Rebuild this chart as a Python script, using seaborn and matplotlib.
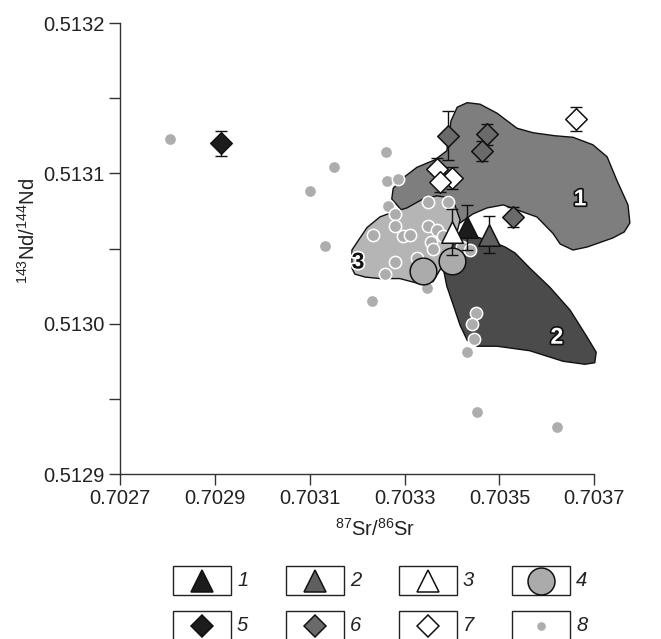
import matplotlib
matplotlib.use('Agg')
import matplotlib.pyplot as plt
import matplotlib.patheffects as pe
from matplotlib.patches import Polygon, Rectangle
import pandas as pd
import seaborn as sns

sns.set_theme(style='ticks')
plt.rcParams['font.family'] = ['Liberation Sans', 'DejaVu Sans']
plt.rcParams['mathtext.fontset'] = 'custom'
plt.rcParams['mathtext.rm'] = 'Liberation Sans'
plt.rcParams['mathtext.default'] = 'regular'

# ---- data ----
# group 1: black triangles
g1_sr = [0.703431]
g1_nd = [0.513064]
g1_err = [0.0000151]
# group 2: grey triangles
g2_sr = [0.703479]
g2_nd = [0.513059]
g2_err = [0.0000123]
# group 3: white triangles
g3_sr = [0.703399]
g3_nd = [0.513061]
g3_err = [0.0000150]
# group 4: big grey circles
g4_sr = [0.703339, 0.703401]
g4_nd = [0.513035, 0.513042]
# group 5: black diamond
g5_sr = [0.702913]
g5_nd = [0.513120]
g5_err = [0.0000083]
# group 6: grey diamonds
g6_sr = [0.703391, 0.703473, 0.703463, 0.703529]
g6_nd = [0.513125, 0.513126, 0.513115, 0.513071]
g6_err = [0.0000163, 0.0000071, 0.0000067, 0.0000067]
# group 7: white diamonds
g7_sr = [0.703661, 0.703368, 0.703399, 0.703375]
g7_nd = [0.513136, 0.513103, 0.513097, 0.513094]
g7_err = [0.0000078, 0.0000075, 0.0000075, 0.0000065]
# group 8: small grey dots
g8_sr = [0.702806, 0.703101, 0.703151, 0.703261, 0.703264, 0.703287, 0.703266,
         0.703280, 0.703350, 0.703392, 0.703132, 0.703234, 0.703280, 0.703297,
         0.703311, 0.703350, 0.703368, 0.703355, 0.703382, 0.703280, 0.703259,
         0.703326, 0.703347, 0.703232, 0.703451, 0.703442, 0.703447, 0.703431,
         0.703452, 0.703621, 0.703421, 0.703438, 0.703360]
g8_nd = [0.513123, 0.513088, 0.513104, 0.513114, 0.513095, 0.513096, 0.513078,
         0.513073, 0.513081, 0.513081, 0.513052, 0.513059, 0.513065, 0.513058,
         0.513059, 0.513065, 0.513062, 0.513054, 0.513058, 0.513041, 0.513033,
         0.513044, 0.513024, 0.513015, 0.513007, 0.513000, 0.512990, 0.512981,
         0.512941, 0.512931, 0.513051, 0.513049, 0.513050]

# fields 1-3 outlines
field1_sr = [0.703273, 0.703276, 0.703297, 0.703326, 0.703364, 0.703389, 0.703398,
             0.703411, 0.703432, 0.703459, 0.703495, 0.703537, 0.703571, 0.703617,
             0.703655, 0.703697, 0.703727, 0.703748, 0.703771, 0.703775, 0.703763,
             0.703739, 0.703685, 0.703655, 0.703628, 0.703613, 0.703579, 0.703543,
             0.703508, 0.703474, 0.703444, 0.703417, 0.703375, 0.703311]
field1_nd = [0.513083, 0.513090, 0.513097, 0.513104, 0.513109, 0.513115, 0.513135,
             0.513144, 0.513147, 0.513146, 0.513140, 0.513130, 0.513127, 0.513125,
             0.513124, 0.513119, 0.513111, 0.513095, 0.513079, 0.513067, 0.513061,
             0.513057, 0.513051, 0.513049, 0.513053, 0.513060, 0.513071, 0.513075,
             0.513079, 0.513077, 0.513073, 0.513067, 0.513063, 0.513069]
field2_sr = [0.703385, 0.703438, 0.703480, 0.703512, 0.703533, 0.703564, 0.703607,
             0.703649, 0.703685, 0.703704, 0.703701, 0.703680, 0.703634, 0.703564,
             0.703495, 0.703453, 0.703432, 0.703417, 0.703402, 0.703389, 0.703379]
field2_nd = [0.513059, 0.513059, 0.513055, 0.513051, 0.513047, 0.513037, 0.513024,
             0.513009, 0.512991, 0.512981, 0.512974, 0.512973, 0.512975, 0.512982,
             0.512985, 0.512985, 0.512989, 0.512999, 0.513013, 0.513025, 0.513041]
field3_sr = [0.703189, 0.703189, 0.703206, 0.703221, 0.703248, 0.703273, 0.703305,
             0.703339, 0.703368, 0.703389, 0.703406, 0.703417, 0.703406, 0.703392,
             0.703375, 0.703360, 0.703326, 0.703290, 0.703248, 0.703217, 0.703195]
field3_nd = [0.513037, 0.513049, 0.513057, 0.513064, 0.513071, 0.513074, 0.513077,
             0.513083, 0.513085, 0.513084, 0.513079, 0.513069, 0.513055, 0.513045,
             0.513036, 0.513028, 0.513027, 0.513030, 0.513030, 0.513031, 0.513033]
field_labels = ['1', '2', '3']
field_label_sr = [0.703670, 0.703621, 0.703202]
field_label_nd = [0.513083, 0.512991, 0.513041]

x_ticks = [0.7027, 0.7029, 0.7031, 0.7033, 0.7035, 0.7037]
y_ticks = [0.5129, 0.5130, 0.5131, 0.5132]
legend_labels = ['1', '2', '3', '4', '5', '6', '7', '8']

# ---- figure ----
fig = plt.figure(figsize=(6.61, 6.39), dpi=100)
ax = fig.add_axes([0.1815, 0.2582, 0.7176, 0.7058])

ink = '#222222'
field_cols = ['#7e7e7e', '#4b4b4b', '#b5b5b5']
for sr, nd, col in zip([field1_sr, field2_sr, field3_sr],
                       [field1_nd, field2_nd, field3_nd], field_cols):
    ax.add_patch(Polygon(list(zip(sr, nd)), closed=True, facecolor=col,
                         edgecolor='#111111', linewidth=1, zorder=1,
                         clip_on=False, joinstyle='round'))

for lab, sx, sy in zip(field_labels, field_label_sr, field_label_nd):
    if lab == '3':
        fc, ec = '#111111', 'white'
    else:
        fc, ec = 'white', '#111111'
    ax.text(sx, sy, lab, fontsize=16.5, fontweight='bold', color=fc,
            ha='center', va='center', zorder=2,
            path_effects=[pe.withStroke(linewidth=2.5, foreground=ec)])

# small dots
sns.scatterplot(x=g8_sr, y=g8_nd, ax=ax, marker='o', s=78, color='#adadad',
                edgecolor='white', linewidth=1.1, zorder=3, legend=False)
# big circles
sns.scatterplot(x=g4_sr, y=g4_nd, ax=ax, marker='o', s=370, color='#ababab',
                edgecolor='#111111', linewidth=1.1, zorder=4, legend=False)

# error bars
for sr, nd, err in [(g1_sr, g1_nd, g1_err), (g2_sr, g2_nd, g2_err),
                    (g3_sr, g3_nd, g3_err), (g5_sr, g5_nd, g5_err),
                    (g6_sr, g6_nd, g6_err), (g7_sr, g7_nd, g7_err)]:
    ax.errorbar(sr, nd, yerr=err, fmt='none', ecolor='#111111',
                elinewidth=1, capsize=4.2, capthick=1, zorder=5)

marker_groups = [
    (g1_sr, g1_nd, '^', 240, '#1c1c1c'),
    (g2_sr, g2_nd, '^', 240, '#5f5f5f'),
    (g3_sr, g3_nd, '^', 240, 'white'),
    (g5_sr, g5_nd, 'D', 120, '#1c1c1c'),
    (g6_sr, g6_nd, 'D', 120, '#6a6a6a'),
    (g7_sr, g7_nd, 'D', 120, 'white'),
]
for sr, nd, mk, size, col in marker_groups:
    df = pd.DataFrame({'sr': sr, 'nd': nd})
    sns.scatterplot(data=df, x='sr', y='nd', ax=ax, marker=mk, s=size,
                    color=col, edgecolor='#111111', linewidth=1.1, zorder=6,
                    legend=False)

ax.set_xlim(x_ticks[0], x_ticks[-1])
ax.set_ylim(y_ticks[0], y_ticks[-1])
ax.set_xticks(x_ticks)
ax.set_xticklabels([f'{t:.4f}' for t in x_ticks])
ax.set_yticks(y_ticks)
ax.set_yticklabels([f'{t:.4f}' for t in y_ticks])
ax.set_yticks([0.51295, 0.51305, 0.51315], minor=True)
ax.tick_params(axis='both', which='both', direction='out', length=8,
               width=1, color='#333333', labelsize=14.5, labelcolor=ink, pad=3)
for side in ['top', 'right']:
    ax.spines[side].set_visible(False)
for side in ['left', 'bottom']:
    ax.spines[side].set_color('#333333')
    ax.spines[side].set_linewidth(1)

ax.set_xlabel(r'$^{87}$Sr/$^{86}$Sr', fontsize=14.5, color=ink)
ax.set_ylabel(r'$^{143}$Nd/$^{144}$Nd', fontsize=14.5, color=ink)
ax.xaxis.set_label_coords(0.538, -0.098)
ax.yaxis.set_label_coords(-0.172, 0.54)

# ---- boxed legend below the chart (figure pixel coordinates) ----
lax = fig.add_axes([0, 0, 1, 1], facecolor='none')
lax.set_xlim(0, 661)
lax.set_ylim(639, 0)
lax.axis('off')

leg_markers = [('^', 16, '#1c1c1c'), ('^', 16, '#5f5f5f'), ('^', 16, 'white'),
               ('o', 19.4, '#ababab'), ('D', 11, '#1c1c1c'), ('D', 11, '#6a6a6a'),
               ('D', 11, 'white'), ('o', 7.3, '#adadad')]
box_w, box_h = 57.7, 29
for i, (lab, (mk, ms, col)) in enumerate(zip(legend_labels, leg_markers)):
    row, colpos = divmod(i, 4)
    x0 = 173.3 + colpos * 113
    y0 = 566 + row * 45
    lax.add_patch(Rectangle((x0, y0), box_w, box_h, facecolor='white',
                            edgecolor='#222222', linewidth=1, clip_on=False))
    edge = 'white' if lab == '8' else '#111111'
    lax.plot([x0 + box_w / 2], [y0 + box_h / 2], marker=mk, markersize=ms,
             markerfacecolor=col, markeredgecolor=edge, markeredgewidth=1.1,
             linestyle='none', clip_on=False)
    lax.text(x0 + box_w + 6, y0 + box_h / 2, lab, fontsize=14.5,
             fontstyle='italic', color=ink, ha='left', va='center')

fig.savefig('out.png', dpi=100)
